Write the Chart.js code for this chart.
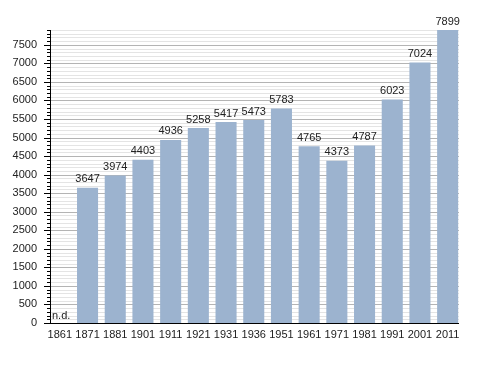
<!DOCTYPE html>
<html><head><meta charset="utf-8">
<script src="https://cdn.jsdelivr.net/npm/chart.js@4"></script>
<style>html,body{margin:0;padding:0;background:#fff}canvas{display:block}</style>
</head><body>
<canvas id="c" width="488" height="373"></canvas>
<script>
const years = ["1861","1871","1881","1901","1911","1921","1931","1936","1951","1961","1971","1981","1991","2001","2011"];
const population = [null,3647,3974,4403,4936,5258,5417,5473,5783,4765,4373,4787,6023,7024,7899];
const missingLabel = "n.d.";
const yMax = 7900;
const majorStep = 500;
const minorStep = 100;

const FONT = "'Liberation Sans', Arial, sans-serif";
const AXIS_X = 50;     // visible y-axis line position
const GRID_RIGHT = 459;

const underlay = {
  id: 'underlay',
  beforeDatasetsDraw(chart) {
    const ctx = chart.ctx, y = chart.scales.y;
    ctx.save();
    ctx.lineWidth = 1;
    for (let v = minorStep; v <= yMax; v += minorStep) {
      const py = Math.round(y.getPixelForValue(v)) + 0.5;
      ctx.strokeStyle = (v % majorStep === 0) ? '#b4b4b4' : '#e4e4e4';
      ctx.beginPath();
      ctx.moveTo(AXIS_X, py);
      ctx.lineTo(GRID_RIGHT, py);
      ctx.stroke();
    }
    ctx.restore();
  }
};

const overlay = {
  id: 'overlay',
  afterDatasetsDraw(chart) {
    const ctx = chart.ctx, x = chart.scales.x, y = chart.scales.y;
    ctx.save();
    ctx.font = "11px " + FONT;
    ctx.fillStyle = "#222";
    ctx.textAlign = "center";
    ctx.textBaseline = "bottom";
    population.forEach((v, i) => {
      if (v === null) return;
      ctx.fillText(String(v), x.getPixelForValue(i), y.getPixelForValue(v) - 3);
    });
    population.forEach((v, i) => {
      if (v !== null) return;
      ctx.textAlign = "left";
      ctx.fillText(missingLabel, AXIS_X + 2, y.getPixelForValue(0) - 2);
    });
    // axis lines
    ctx.strokeStyle = "#000";
    ctx.lineWidth = 1;
    const y0 = Math.round(y.getPixelForValue(0)) + 0.5;
    const yTop = Math.round(y.getPixelForValue(yMax));
    ctx.beginPath();
    ctx.moveTo(AXIS_X + 0.5, yTop);
    ctx.lineTo(AXIS_X + 0.5, y0);
    ctx.moveTo(AXIS_X - 5, y0);
    ctx.lineTo(GRID_RIGHT, y0);
    ctx.stroke();
    // tick marks on y axis
    for (let v = 0; v <= yMax; v += minorStep) {
      const py = Math.round(y.getPixelForValue(v)) + 0.5;
      const len = (v % majorStep === 0) ? 6 : 3;
      ctx.beginPath();
      ctx.moveTo(AXIS_X - len, py);
      ctx.lineTo(AXIS_X, py);
      ctx.stroke();
    }
    ctx.restore();
  }
};

new Chart(document.getElementById('c'), {
  type: 'bar',
  data: {
    labels: years,
    datasets: [{
      data: population,
      backgroundColor: '#9cb3cf',
      borderWidth: 0,
      barPercentage: 0.76,
      categoryPercentage: 1.0
    }]
  },
  options: {
    responsive: false,
    animation: false,
    devicePixelRatio: 1,
    layout: { padding: { top: 30, right: 26.5, left: 0, bottom: 0 } },
    plugins: { legend: { display: false }, tooltip: { enabled: false } },
    scales: {
      x: {
        grid: { display: false, drawTicks: false },
        border: { display: false },
        ticks: { color: '#222', font: { family: FONT, size: 11 }, padding: 5, maxRotation: 0, autoSkip: false },
        afterFit(s) { s.height = 50; }
      },
      y: {
        min: 0, max: yMax,
        afterBuildTicks(s) {
          const t = [];
          for (let v = 0; v <= yMax; v += minorStep) t.push({ value: v });
          s.ticks = t;
        },
        grid: { display: false, drawTicks: false },
        border: { display: false },
        ticks: {
          color: '#222', font: { family: FONT, size: 11 }, padding: 9, autoSkip: false,
          callback: (v) => (v % majorStep === 0) ? String(v) : ''
        },
        afterFit(s) { s.width = 46; }
      }
    }
  },
  plugins: [underlay, overlay]
});
</script>
</body></html>
